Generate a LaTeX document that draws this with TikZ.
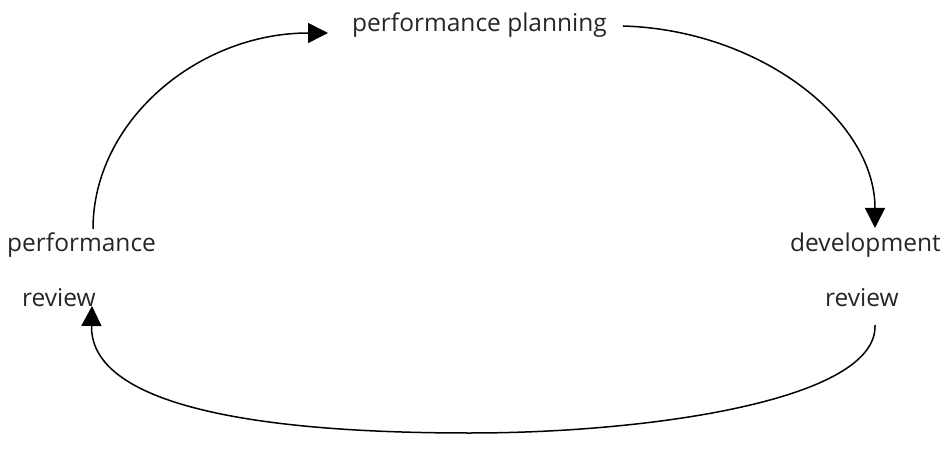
\documentclass[tikz,border=0pt]{standalone}
\usepackage{fontspec}
\setmainfont{Open Sans}
\usetikzlibrary{arrows.meta}
\tikzset{
  lbl/.style={inner sep=0pt, text=black!85, font=\fontsize{24.5}{28}\selectfont},
  flow/.style={line width=1.5pt, -{Triangle[length=20pt,width=20pt]}},
}
\begin{document}
\begin{tikzpicture}[x=1pt,y=-1pt]
\useasboundingbox (0,0) rectangle (950,462);
\node[lbl, anchor=base west] (plan) at (352,32) {performance planning};
\node[lbl, anchor=base west] (perf) at (7,252) {performance};
\node[lbl, anchor=base west] (revl) at (22,306) {review};
\node[lbl, anchor=base west] (dev) at (790,252) {development};
\node[lbl, anchor=base west] (revr) at (825,306) {review};
\coordinate (s1) at (93,229);
\coordinate (e1) at (328,33);
\coordinate (s2) at (623,26);
\coordinate (e2) at (875,228);
\coordinate (s3) at (875,325);
\coordinate (m3) at (470,433);
\coordinate (e3) at (92,306);
\draw[flow] (s1) .. controls (93,121) and (198,33) .. (e1);
\draw[flow] (s2) .. controls (760,30) and (875,120) .. (e2);
\draw[flow] (s3) .. controls (878,400) and (650,433) .. (m3) .. controls (200,433) and (90,390) .. (e3);
\end{tikzpicture}
\end{document}
